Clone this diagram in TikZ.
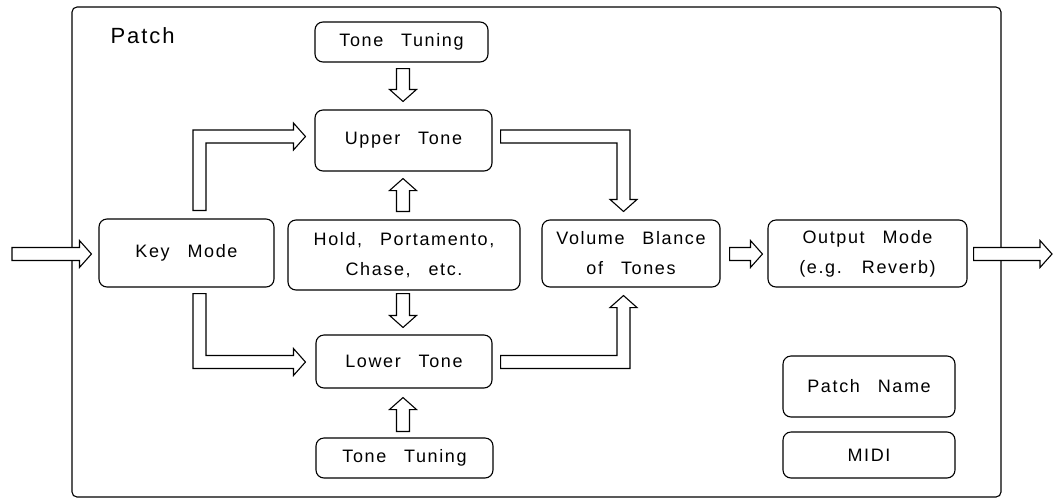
\documentclass[tikz,border=0pt]{standalone}
\usepackage{fontspec}
\setmainfont{Liberation Sans}[LetterSpace=9,WordSpace=2.7]
\usetikzlibrary{calc}
\def\sw{6.5pt}
\def\hw{13.5pt}
\def\hl{12pt}
% straight block arrow (axis-aligned), from #1 to #2
\newcommand\varr[2]{%
  \draw[blk] let \p1=(#1), \p2=(#2), \n1={sign(\y2-\y1)} in
    (\x1-\sw,\y1) -- (\x1-\sw,\y2-\n1*\hl) -- (\x1-\hw,\y2-\n1*\hl) -- (\x1,\y2)
    -- (\x1+\hw,\y2-\n1*\hl) -- (\x1+\sw,\y2-\n1*\hl) -- (\x1+\sw,\y1) -- cycle;}
\newcommand\harr[2]{%
  \draw[blk] let \p1=(#1), \p2=(#2), \n1={sign(\x2-\x1)} in
    (\x1,\y1-\sw) -- (\x2-\n1*\hl,\y1-\sw) -- (\x2-\n1*\hl,\y1-\hw) -- (\x2,\y1)
    -- (\x2-\n1*\hl,\y1+\hw) -- (\x2-\n1*\hl,\y1+\sw) -- (\x1,\y1+\sw) -- cycle;}
\begin{document}
\begin{tikzpicture}[x=1pt,y=1pt,
  box/.style={draw, line width=1.1pt, rounded corners=8pt, align=center,
    font=\fontsize{18}{30}\selectfont, inner sep=0pt},
  blk/.style={draw, line width=1.1pt, fill=white, line join=miter}]
\useasboundingbox (0,0) rectangle (1060,-499);
\node[draw, line width=1.1pt, rounded corners=5pt, minimum width=929pt, minimum height=490pt, inner sep=0pt] (patch) at (536.5,-252) {};
\node[anchor=base west, font=\fontsize{22}{26}\selectfont] (plabel) at (107,-43) {Patch};

\node[box, minimum width=173pt, minimum height=40pt] (tt1) at (401.5,-42) {Tone Tuning};
\node[box, minimum width=177pt, minimum height=61pt] (up) at (403.5,-140.5) {Upper Tone};
\node[box, minimum width=175pt, minimum height=68pt] (key) at (186.5,-253) {Key Mode};
\node[box, minimum width=232pt, minimum height=70pt] (hold) at (404,-255) {Hold, Portamento,\\Chase, etc.};
\node[box, minimum width=178pt, minimum height=67pt] (vol) at (631,-253.5) {Volume Blance\\of Tones};
\node[box, minimum width=199pt, minimum height=67pt] (out) at (867.5,-253.5) {Output Mode\\(e.g. Reverb)};
\node[box, minimum width=176pt, minimum height=53pt] (low) at (404,-361.5) {Lower Tone};
\node[box, minimum width=177pt, minimum height=40pt] (tt2) at (404.5,-458) {Tone Tuning};
\node[box, minimum width=172pt, minimum height=61pt] (pname) at (869,-386.5) {Patch Name};
\node[box, minimum width=172pt, minimum height=46pt] (midi) at (869,-455) {MIDI};

\coordinate (in) at (12,-254);
\coordinate (outend) at (1052,-254);

% straight arrows
\harr{in}{$(key.west)+(-7,-1)$}
\varr{$(tt1.south)+(1.5,-6)$}{$(up.north)+(-0.5,8)$}
\varr{$(hold.north)+(-1,8)$}{$(up.south)+(-0.5,-7)$}
\varr{$(hold.south)+(-1,-3)$}{$(low.north)+(-1,7)$}
\varr{$(tt2.north)+(-1.5,6)$}{$(low.south)+(-1,-9)$}
\harr{$(vol.east)+(9,-0.5)$}{$(out.west)+(-5,-0.5)$}
\harr{$(out.east)+(6,-0.5)$}{outend}

% elbow: Key Mode -> Upper Tone
\draw[blk] let \p1=(key.north), \p2=(up.west), \n1={\x1+13pt}, \n2={\y2+4pt}, \n3={\x2-9pt} in
  (\n1-\sw,\y1+8pt) -- (\n1-\sw,\n2+\sw) -- (\n3-\hl,\n2+\sw) -- (\n3-\hl,\n2+\hw) -- (\n3,\n2)
  -- (\n3-\hl,\n2-\hw) -- (\n3-\hl,\n2-\sw) -- (\n1+\sw,\n2-\sw) -- (\n1+\sw,\y1+8pt) -- cycle;
% elbow: Key Mode -> Lower Tone
\draw[blk] let \p1=(key.south), \p2=(low.west), \n1={\x1+13pt}, \n2={\y2-0.5pt}, \n3={\x2-10pt} in
  (\n1-\sw,\y1-6pt) -- (\n1-\sw,\n2-\sw) -- (\n3-\hl,\n2-\sw) -- (\n3-\hl,\n2-\hw) -- (\n3,\n2)
  -- (\n3-\hl,\n2+\hw) -- (\n3-\hl,\n2+\sw) -- (\n1+\sw,\n2+\sw) -- (\n1+\sw,\y1-6pt) -- cycle;
% elbow: Upper Tone -> Volume
\draw[blk] let \p1=(up.east), \p2=(vol.north), \n1={\y1+4pt}, \n2={\x2-7.5pt}, \n3={\y2+8pt} in
  (\x1+8pt,\n1+\sw) -- (\n2+\sw,\n1+\sw) -- (\n2+\sw,\n3+\hl) -- (\n2+\hw,\n3+\hl) -- (\n2,\n3)
  -- (\n2-\hw,\n3+\hl) -- (\n2-\sw,\n3+\hl) -- (\n2-\sw,\n1-\sw) -- (\x1+8pt,\n1-\sw) -- cycle;
% elbow: Lower Tone -> Volume
\draw[blk] let \p1=(low.east), \p2=(vol.south), \n1={\y1-0.5pt}, \n2={\x2-7.5pt}, \n3={\y2-8pt} in
  (\x1+8pt,\n1-\sw) -- (\n2+\sw,\n1-\sw) -- (\n2+\sw,\n3-\hl) -- (\n2+\hw,\n3-\hl) -- (\n2,\n3)
  -- (\n2-\hw,\n3-\hl) -- (\n2-\sw,\n3-\hl) -- (\n2-\sw,\n1+\sw) -- (\x1+8pt,\n1+\sw) -- cycle;
\end{tikzpicture}
\end{document}
